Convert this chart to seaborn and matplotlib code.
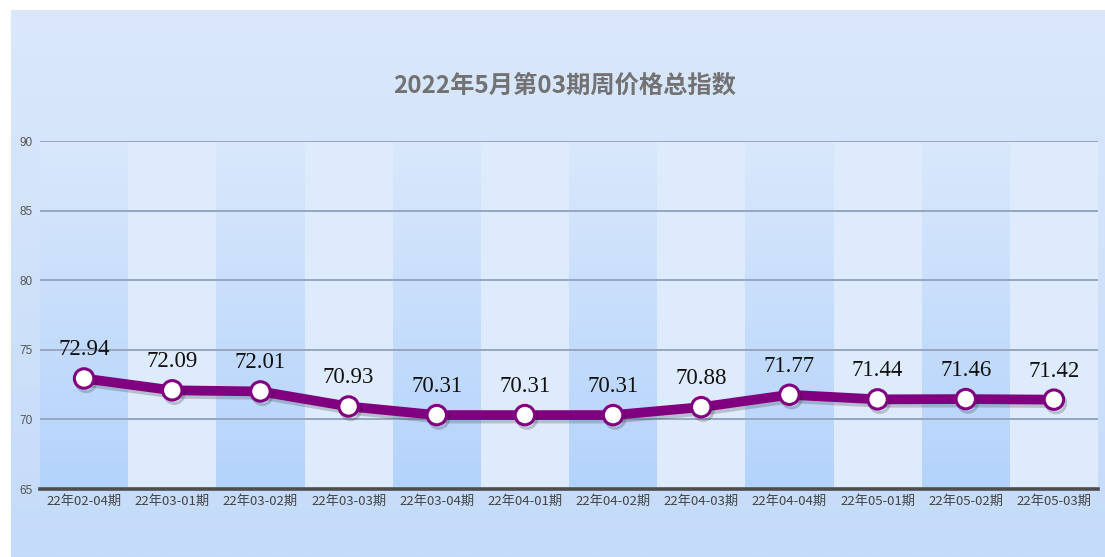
import numpy as np
import pandas as pd
import matplotlib
matplotlib.use("Agg")
import matplotlib.pyplot as plt
import matplotlib.patheffects as pe
from matplotlib.colors import LinearSegmentedColormap
import seaborn as sns

categories = ["22年02-04期", "22年03-01期", "22年03-02期", "22年03-03期", "22年03-04期",
              "22年04-01期", "22年04-02期", "22年04-03期", "22年04-04期", "22年05-01期",
              "22年05-02期", "22年05-03期"]
values = [72.94, 72.09, 72.01, 70.93, 70.31, 70.31, 70.31, 70.88, 71.77, 71.44, 71.46, 71.42]
y_ticks = [65, 70, 75, 80, 85, 90]
title = "2022年5月第03期周价格总指数"

sns.set_theme(style="white")
plt.rcParams['font.family'] = ['Noto Sans CJK SC', 'DejaVu Sans']

W, H = 1105, 557
fig = plt.figure(figsize=(W / 100, H / 100), dpi=100)
fig.patch.set_facecolor("white")

# background panel with vertical gradient
bg = fig.add_axes([11 / W, 0, 1 - 11 / W, (H - 10) / H])
bg_cmap = LinearSegmentedColormap.from_list("bg", ["#dbe8fb", "#c4dbf9"])
bg.imshow(np.linspace(0, 1, 256).reshape(-1, 1), aspect="auto", cmap=bg_cmap,
          extent=[0, 1, 0, 1], origin="upper")
bg.set_axis_off()

ax = fig.add_axes([40 / W, 1 - 489 / H, (1098 - 40) / W, (489 - 141) / H])
ax.set_facecolor("none")
ax.patch.set_alpha(0)

n = len(categories)
col_dark = LinearSegmentedColormap.from_list("cd", ["#d9e8fc", "#b4d3fb"])
grad = np.linspace(0, 1, 256).reshape(-1, 1)
for i in range(n):
    if i % 2 == 0:
        ax.imshow(grad, aspect="auto", cmap=col_dark, extent=[i - 0.5, i + 0.5, 65, 90],
                  origin="upper", zorder=0)
    else:
        ax.axvspan(i - 0.5, i + 0.5, ymin=0, ymax=1, color="#deebfc", lw=0, zorder=0)

for t in y_ticks[1:]:
    ax.axhline(t, color="#95a6be", lw=1.4, zorder=1)

df = pd.DataFrame({"period": categories, "value": values})
sns.lineplot(data=df, x="period", y="value", ax=ax, color="#800080", lw=7,
             marker="o", markersize=14, markerfacecolor="white",
             markeredgecolor="#800080", markeredgewidth=2.2, zorder=3,
             path_effects=[pe.SimpleLineShadow(offset=(1.5, -2.5), alpha=0.22, shadow_color="#222222"),
                           pe.Normal()])

for i, v in enumerate(values):
    ax.annotate(f"{v:.2f}", (i, v), xytext=(0, 13), textcoords="offset points",
                ha="center", va="bottom", fontsize=16.5, family="Liberation Serif",
                color="#111111", zorder=5)

ax.set_xlim(-0.5, n - 0.5)
ax.set_ylim(65, 90)
ax.set_yticks(y_ticks)
ax.set_yticklabels([str(t) for t in y_ticks], fontsize=8.5, color="#555555",
                   family=["Liberation Sans", "DejaVu Sans"])
ax.set_xticks(range(n))
ax.set_xticklabels(categories, fontsize=9.5, color="#444444")
ax.tick_params(axis="both", length=0, pad=4)
ax.tick_params(axis="y", pad=5)
ax.set_xlabel("")
ax.set_ylabel("")
for s in ["top", "right", "left"]:
    ax.spines[s].set_visible(False)
ax.spines["bottom"].set_color("#4d4d4d")
ax.spines["bottom"].set_linewidth(2.6)
ax.spines["bottom"].set_zorder(4)

fig.text(565 / W, 1 - 86 / H, title, ha="center", va="center", fontsize=17.5,
         fontweight="bold", color="#727272")

fig.savefig("out.png", dpi=100)
